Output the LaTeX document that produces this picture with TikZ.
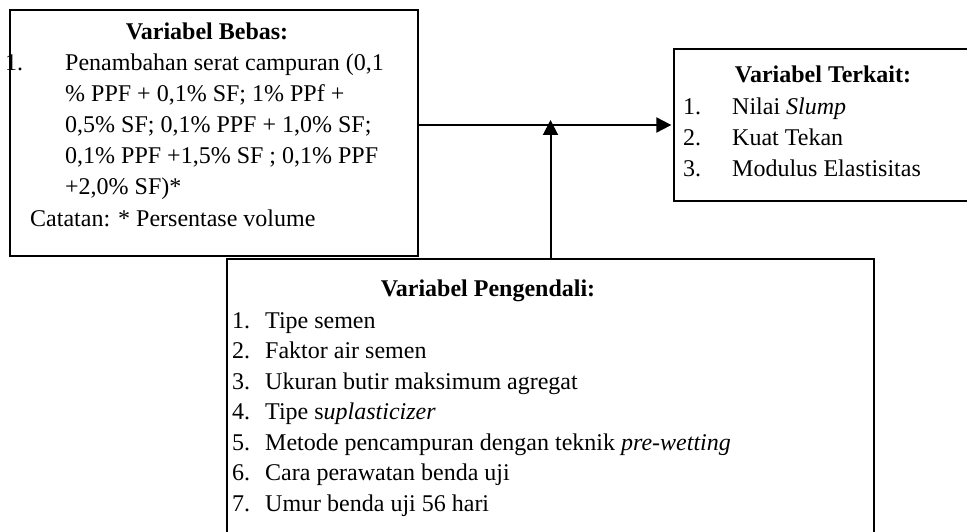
\documentclass[tikz,border=0pt]{standalone}
\usepackage{fontspec}
\setmainfont{Liberation Serif}
\usetikzlibrary{arrows.meta}
\begin{document}
\begin{tikzpicture}[x=1pt,y=-1pt,
  box/.style={draw, line width=1.3pt, inner sep=0, rectangle},
  txt/.style={inner sep=0, anchor=base west, font=\fontsize{24}{29}\selectfont},
  ttl/.style={inner sep=0, anchor=base, font=\fontsize{24}{29}\selectfont\bfseries},
  arr/.style={line width=2pt, -{Triangle[length=15pt,width=15pt]}}]
\useasboundingbox (0,0) rectangle (967,532);
\fill[white] (0,0) rectangle (967,532);
% boxes
\node[box, minimum width=408pt, minimum height=246pt] (bebas) at (214,133) {};
\node[box, minimum width=316pt, minimum height=152pt] (terkait) at (832,125) {};
\node[box, minimum width=647pt, minimum height=301pt] (pengendali) at (550.5,409.5) {};
% Variabel Bebas
\node[ttl] (tb) at (207,40) {Variabel Bebas:};
\node[txt] (b0) at (5,71) {1.};
\node[txt] (b1) at (65,71) {Penambahan serat campuran (0,1};
\node[txt] (b2) at (65,102) {\% PPF + 0,1\% SF; 1\% PPf +};
\node[txt] (b3) at (65,133) {0,5\% SF; 0,1\% PPF + 1,0\% SF;};
\node[txt] (b4) at (65,164) {0,1\% PPF +1,5\% SF ; 0,1\% PPF};
\node[txt] (b5) at (65,195) {+2,0\% SF)*};
\node[txt] (b6) at (30,226) {Catatan: * Persentase volume};
% Variabel Terkait
\node[ttl] (tt) at (823,83) {Variabel Terkait:};
\node[txt] (n1) at (683,115) {1.};
\node[txt] (n2) at (683,146) {2.};
\node[txt] (n3) at (683,177) {3.};
\node[txt] (t1) at (732,115) {Nilai \textit{Slump}};
\node[txt] (t2) at (732,146) {Kuat Tekan};
\node[txt] (t3) at (732,177) {Modulus Elastisitas};
% Variabel Pengendali
\node[ttl] (tp) at (488,296) {Variabel Pengendali:};
\foreach \i/\y/\t in {1/328/{Tipe semen},
                      2/358.5/{Faktor air semen},
                      3/389/{Ukuran butir maksimum agregat},
                      4/419.5/{Tipe s\textit{uplasticizer}},
                      5/450/{Metode pencampuran dengan teknik \textit{pre-wetting}},
                      6/480.5/{Cara perawatan benda uji},
                      7/511/{Umur benda uji 56 hari}}{
  \node[txt] (pn\i) at (232,\y) {\i.};
  \node[txt] (pt\i) at (265,\y) {\t};
}
% connectors
\coordinate (join) at (pengendali.north |- terkait.west);
\draw[arr, shorten >=2pt] (bebas.east |- terkait.west) -- (terkait.west);
\draw[arr] (pengendali.north) -- ([yshift=5pt]join);
\end{tikzpicture}
\end{document}
